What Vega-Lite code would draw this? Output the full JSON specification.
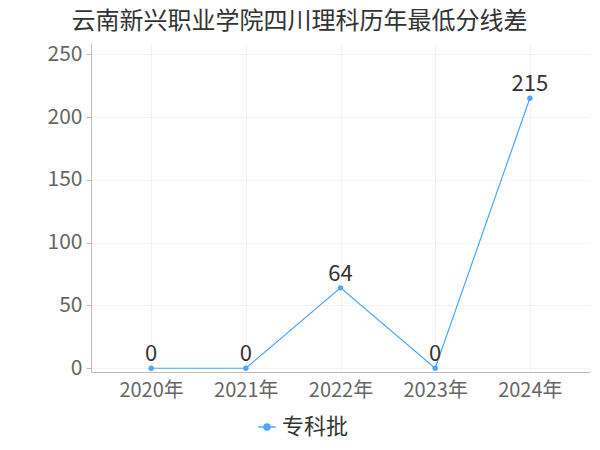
{
  "$schema": "https://vega.github.io/schema/vega-lite/v6.json",
  "autosize": "none",
  "width": 499,
  "height": 329,
  "padding": {"left": 91, "top": 43, "right": 10, "bottom": 78},
  "background": "white",
  "title": {"text": "云南新兴职业学院四川理科历年最低分线差", "fontSize": 24, "font": "Noto Sans CJK SC", "fontWeight": "normal", "color": "#333333", "anchor": "middle", "dx": -41, "offset": 9},
  "config": {"view": {"stroke": null}, "font": "Noto Sans CJK SC"},
  "data": {"values": [
    {"year": "2020年", "value": 0, "series": "专科批"},
    {"year": "2021年", "value": 0, "series": "专科批"},
    {"year": "2022年", "value": 64, "series": "专科批"},
    {"year": "2023年", "value": 0, "series": "专科批"},
    {"year": "2024年", "value": 215, "series": "专科批"}
  ]},
  "encoding": {
    "x": {"field": "year", "type": "ordinal", "sort": null, "scale": {"type": "point", "padding": 0.635},
      "axis": {"title": null, "labelAngle": 0, "labelFontSize": 20, "labelColor": "#666666", "domainColor": "#bbbbbb", "ticks": false, "labelPadding": 8, "grid": true, "gridColor": "#f3f3f3"}},
    "y": {"field": "value", "type": "quantitative", "scale": {"domain": [-3, 259], "nice": false, "zero": false},
      "axis": {"title": null, "values": [0, 50, 100, 150, 200, 250], "labelFontSize": 21, "labelColor": "#666666", "domainColor": "#bbbbbb", "tickColor": "#bbbbbb", "tickSize": 5, "labelPadding": 4, "gridColor": "#f3f3f3"}}
  },
  "layer": [
    {"mark": {"type": "line", "color": "#4da6ff", "strokeWidth": 1.2, "point": {"filled": true, "size": 30, "color": "#4da6ff"}},
     "encoding": {"color": {"field": "series", "type": "nominal", "scale": {"range": ["#4da6ff"]},
       "legend": {"title": null, "orient": "none", "legendX": 165, "legendY": 373, "direction": "horizontal", "labelFontSize": 22, "labelColor": "#333333", "symbolType": "M-1,0 L-0.35,0 M0.35,0 L1,0 M-0.35,0 A0.35,0.35 0 1,1 0.35,0 A0.35,0.35 0 1,1 -0.35,0 Z", "symbolSize": 300, "symbolStrokeWidth": 1.5, "symbolFillColor": "#4da6ff", "symbolStrokeColor": "#4da6ff"}}}},
    {"mark": {"type": "text", "dy": -14, "fontSize": 22, "color": "#333333"},
     "encoding": {"text": {"field": "value", "type": "quantitative"}}}
  ]
}
